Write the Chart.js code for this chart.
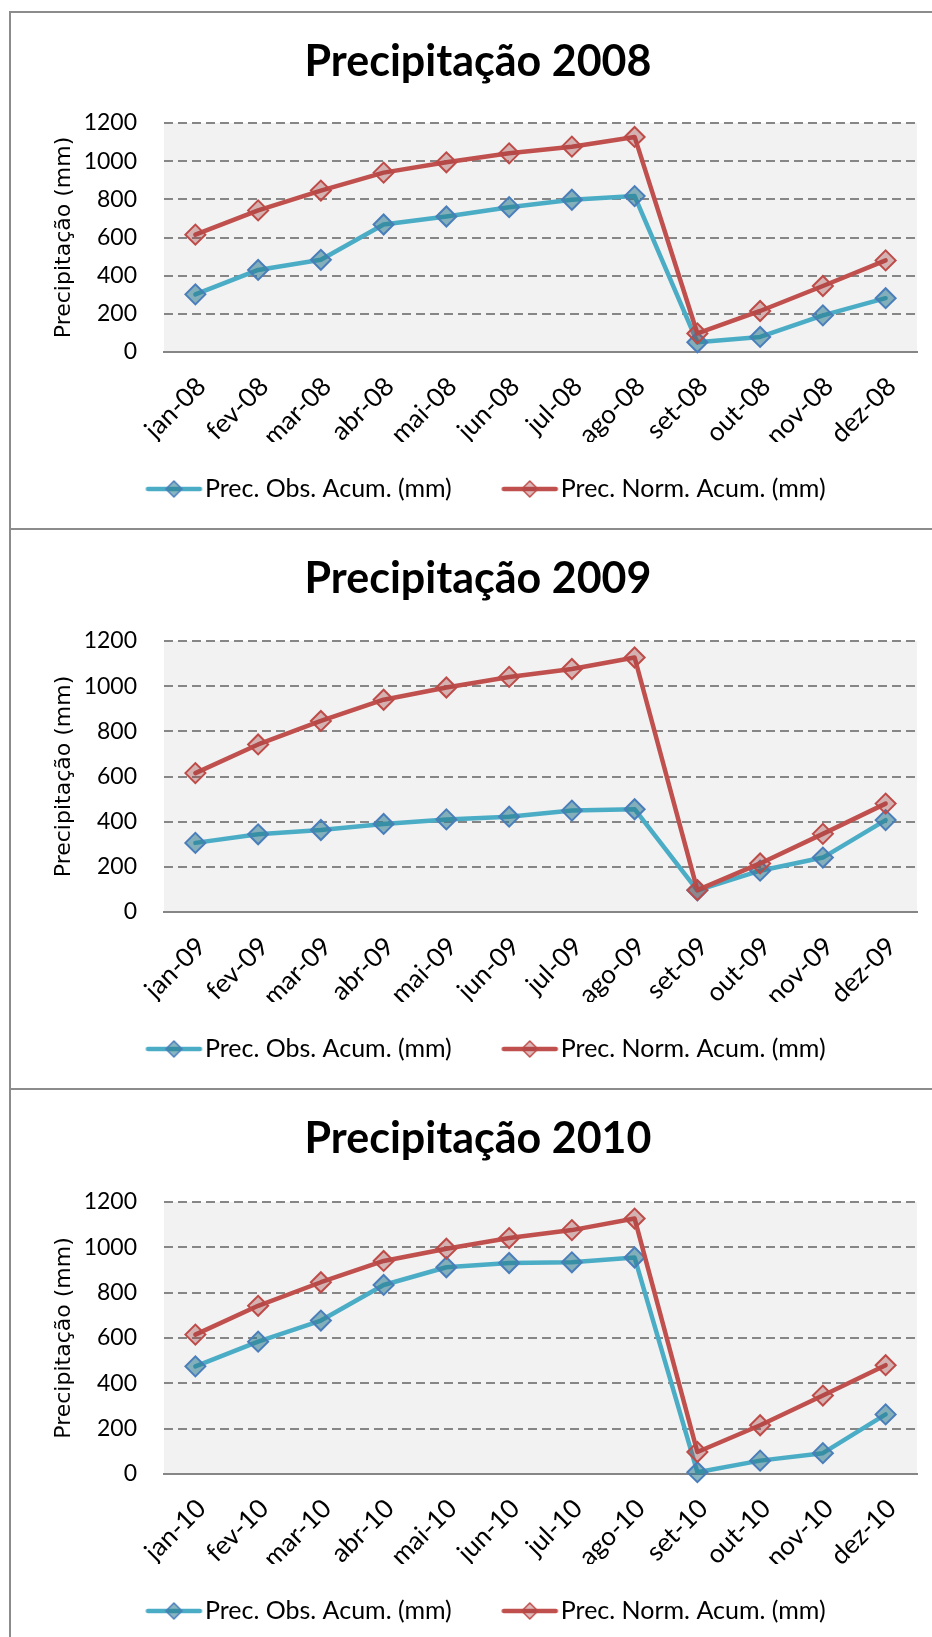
<!DOCTYPE html>
<html lang="pt">
<head>
<meta charset="utf-8">
<title>Precipitação 2008 - 2010</title>
<script src="https://cdn.jsdelivr.net/npm/chart.js@4.4.1/dist/chart.umd.min.js"></script>
<style>
    html, body { margin: 0; padding: 0; background: #ffffff; }
    body { width: 932px; height: 1637px; overflow: hidden; position: relative; }
    .panel {
        position: absolute;
        left: 9px;
        width: 941px;
        border-top: 2px solid #8c8c8c;
        border-left: 2px solid #8c8c8c;
    }
    .panel canvas { display: block; }
</style>
</head>
<body>
<div class="panel" style="top: 11px;"><canvas id="chart2008" width="937" height="515"></canvas></div>
<div class="panel" style="top: 528px;"><canvas id="chart2009" width="937" height="558"></canvas></div>
<div class="panel" style="top: 1088px;"><canvas id="chart2010" width="937" height="560"></canvas></div>

<script>
// Months (x categories)
const months = ['jan', 'fev', 'mar', 'abr', 'mai', 'jun', 'jul', 'ago', 'set', 'out', 'nov', 'dez'];

// Y axis ticks
const yTicks = [0, 200, 400, 600, 800, 1000, 1200];

// Series names
const obsLabel = 'Prec. Obs. Acum. (mm)';
const normLabel = 'Prec. Norm. Acum. (mm)';

// Accumulated normal precipitation (same every year)
const normal = [615, 742, 846, 940, 994, 1041, 1076, 1127, 97, 215, 346, 480];

// Accumulated observed precipitation per year
const obs2008 = [302, 430, 483, 668, 710, 759, 798, 817, 51, 79, 192, 282];
const obs2009 = [306, 344, 363, 390, 410, 422, 449, 455, 96, 183, 241, 407];
const obs2010 = [475, 584, 677, 834, 912, 931, 934, 955, 8, 59, 92, 263];

document.addEventListener('DOMContentLoaded', initializeCharts);

// Light grey plot area, like the spreadsheet chart
const plotBackground = {
    id: 'plotBackground',
    beforeDraw(chart) {
        const { ctx, chartArea } = chart;
        ctx.save();
        ctx.fillStyle = '#f2f2f2';
        ctx.fillRect(chartArea.left, chartArea.top, chartArea.width, chartArea.height);
        ctx.restore();
    }
};

// Line + diamond picture for the legend.
// The canvas is wider than the drawing so the text sits close to it.
function makeLegendIcon(lineColor, fillColor, markerBorder) {
    const c = document.createElement('canvas');
    c.width = 120;
    c.height = 22;
    const ctx = c.getContext('2d');
    const x0 = 44.5;
    ctx.strokeStyle = lineColor;
    ctx.lineWidth = 4.5;
    ctx.lineCap = 'round';
    ctx.beginPath();
    ctx.moveTo(x0 + 2, 11);
    ctx.lineTo(x0 + 54, 11);
    ctx.stroke();
    ctx.beginPath();
    ctx.moveTo(x0 + 28, 3);
    ctx.lineTo(x0 + 36, 11);
    ctx.lineTo(x0 + 28, 19);
    ctx.lineTo(x0 + 20, 11);
    ctx.closePath();
    ctx.fillStyle = fillColor;
    ctx.fill();
    ctx.strokeStyle = markerBorder;
    ctx.lineWidth = 1.5;
    ctx.stroke();
    return c;
}

function initializeCharts() {
    Chart.defaults.font.family = 'Lato, sans-serif';
    Chart.defaults.color = '#000000';

    buildChart('chart2008', '08', 'Precipitação 2008', obs2008, 110);
    buildChart('chart2009', '09', 'Precipitação 2009', obs2009, 111);
    buildChart('chart2010', '10', 'Precipitação 2010', obs2010, 112);
}

function buildChart(canvasId, yearSuffix, titleText, obsData, plotTop) {
    const ctx = document.getElementById(canvasId).getContext('2d');
    const labels = months.map(m => `${m}-${yearSuffix}`);

    const obsColor = '#4bacc6';
    const normColor = '#c0504d';
    const icons = [
        makeLegendIcon(obsColor, 'rgba(40, 120, 140, 0.55)', '#4a7ebb'),
        makeLegendIcon(normColor, 'rgba(160, 60, 60, 0.35)', '#be4b48')
    ];

    const titleLineHeight = 43 * 1.2;
    const titleTop = 23;
    const legendPadding = 34.5;
    const xAxisHeight = 90;

    return new Chart(ctx, {
        type: 'line',
        data: {
            labels: labels,
            datasets: [{
                label: obsLabel,
                data: obsData,
                order: 1,
                borderColor: obsColor,
                borderWidth: 4.5,
                borderCapStyle: 'round',
                borderJoinStyle: 'round',
                pointStyle: 'rectRot',
                pointRadius: 10,
                pointBorderWidth: 2,
                pointBackgroundColor: 'rgba(40, 120, 140, 0.55)',
                pointBorderColor: '#4a7ebb',
                fill: false,
                tension: 0,
                clip: false
            }, {
                label: normLabel,
                data: normal,
                order: 0,
                borderColor: normColor,
                borderWidth: 4.5,
                borderCapStyle: 'round',
                borderJoinStyle: 'round',
                pointStyle: 'rectRot',
                pointRadius: 10,
                pointBorderWidth: 2,
                pointBackgroundColor: 'rgba(160, 60, 60, 0.35)',
                pointBorderColor: '#be4b48',
                fill: false,
                tension: 0,
                clip: false
            }]
        },
        options: {
            responsive: false,
            animation: false,
            layout: {
                padding: { left: 0, right: 3, top: 0, bottom: 16.5 }
            },
            plugins: {
                title: {
                    display: true,
                    text: titleText,
                    color: '#000000',
                    font: { family: 'Lato, sans-serif', weight: 'bold', size: 43, lineHeight: 1.2 },
                    padding: { top: titleTop, bottom: plotTop - titleTop - titleLineHeight }
                },
                legend: {
                    position: 'bottom',
                    labels: {
                        color: '#000000',
                        font: { family: 'Lato, sans-serif', size: 25 },
                        usePointStyle: true,
                        pointStyleWidth: 62,
                        padding: legendPadding,
                        generateLabels: (chart) => chart.data.datasets.map((ds, i) => ({
                            text: ds.label,
                            pointStyle: icons[i],
                            fillStyle: ds.borderColor,
                            strokeStyle: ds.borderColor,
                            lineWidth: 0,
                            hidden: false,
                            datasetIndex: i,
                            fontColor: '#000000'
                        }))
                    }
                },
                tooltip: { enabled: false }
            },
            scales: {
                x: {
                    offset: true,
                    grid: { display: false, drawTicks: false },
                    border: { display: true, color: '#868686', width: 2 },
                    ticks: {
                        autoSkip: false,
                        minRotation: 45,
                        maxRotation: 45,
                        padding: 19,
                        labelOffset: 6,
                        color: '#000000',
                        font: { size: 26 }
                    },
                    afterFit: (scale) => { scale.height = xAxisHeight; }
                },
                y: {
                    min: yTicks[0],
                    max: yTicks[yTicks.length - 1],
                    afterBuildTicks: (scale) => { scale.ticks = yTicks.map(v => ({ value: v })); },
                    grid: { color: '#868686', lineWidth: 2, drawTicks: false },
                    border: { display: false, dash: [9, 5] },
                    ticks: {
                        padding: 27,
                        color: '#000000',
                        font: { size: 23 },
                        callback: (value) => String(value)
                    },
                    title: {
                        display: true,
                        text: 'Precipitação (mm)',
                        color: '#000000',
                        font: { family: '"DejaVu Sans", sans-serif', size: 22, lineHeight: 1.2 },
                        padding: { top: 40, bottom: 0 }
                    },
                    afterFit: (scale) => { scale.width = 153; }
                },
                // empty right axis, only keeps room right of the plot
                yRight: {
                    position: 'right',
                    grid: { display: false, drawTicks: false },
                    border: { display: false },
                    ticks: { display: false },
                    afterFit: (scale) => { scale.width = 28; }
                }
            }
        },
        plugins: [plotBackground]
    });
}
</script>
</body>
</html>
